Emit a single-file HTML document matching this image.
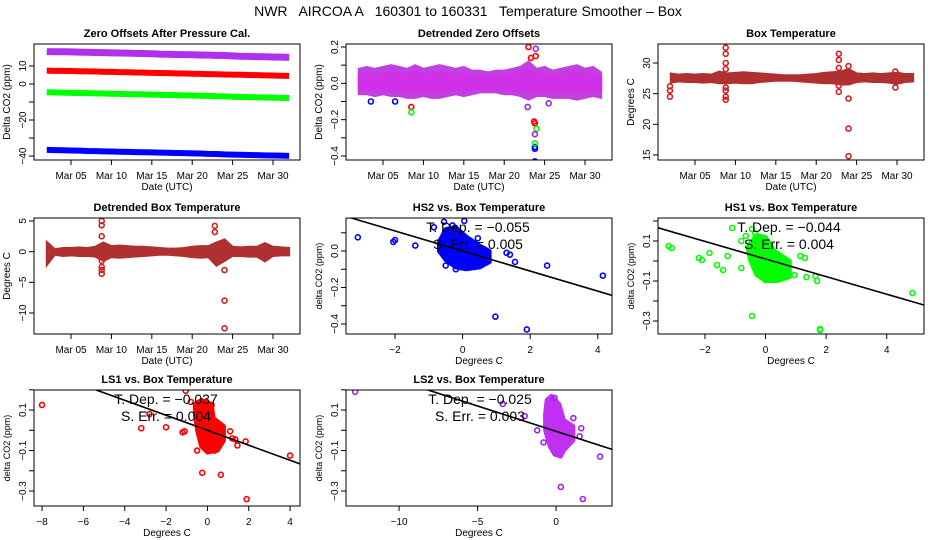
<!DOCTYPE html>
<html><head><meta charset="utf-8"><style>
html,body{margin:0;padding:0;background:#fff;}
svg{display:block;font-family:"Liberation Sans",sans-serif;}
</style></head><body>
<svg id="c" width="936" height="540" xmlns="http://www.w3.org/2000/svg">
<text x="468" y="16" text-anchor="middle" font-size="14" style="white-space:pre">NWR   AIRCOA A   160301 to 160331   Temperature Smoother – Box</text>
</svg>
<script>
// ---- data ----
const days = [2,3,4,5,6,7,8,9,10,11,12,13,14,15,16,17,18,19,20,21,22,23,24,25,26,27,28,29,30,31,32];
const zeroPurple = [18,17.9,17.9,17.8,17.7,17.6,17.5,17.4,17.3,17.2,17.1,17,16.9,16.8,16.6,16.5,16.4,16.3,16.2,16.1,16,15.9,15.8,15.6,15.4,15.3,15.2,15.1,15,14.9,14.8];
const zeroRed = [7.4,7.3,7.3,7.2,7.1,7.0,6.9,6.8,6.7,6.6,6.5,6.4,6.3,6.2,6.1,6.0,5.9,5.8,5.7,5.6,5.5,5.4,5.3,5.2,5.1,5.0,4.9,4.8,4.7,4.6,4.5];
const zeroGreen = [-4.6,-4.7,-4.8,-4.9,-5.0,-5.1,-5.2,-5.3,-5.4,-5.5,-5.6,-5.7,-5.8,-5.9,-6.0,-6.1,-6.2,-6.3,-6.4,-6.5,-6.6,-6.8,-6.9,-7.1,-7.2,-7.3,-7.4,-7.5,-7.6,-7.7,-7.8];
const zeroBlue = [-36.6,-36.7,-36.8,-36.9,-37.0,-37.2,-37.3,-37.4,-37.5,-37.6,-37.7,-37.8,-37.9,-38.0,-38.1,-38.2,-38.3,-38.4,-38.5,-38.6,-38.8,-38.9,-39.1,-39.2,-39.3,-39.4,-39.5,-39.6,-39.7,-39.8,-39.9];
const detHi = [0.08,0.09,0.08,0.09,0.1,0.09,0.08,0.1,0.08,0.09,0.1,0.09,0.08,0.09,0.07,0.07,0.06,0.07,0.07,0.08,0.09,0.12,0.08,0.09,0.07,0.08,0.09,0.1,0.08,0.09,0.06];
const detLo = [-0.06,-0.06,-0.07,-0.06,-0.07,-0.07,-0.08,-0.08,-0.07,-0.08,-0.08,-0.07,-0.06,-0.07,-0.06,-0.05,-0.05,-0.05,-0.06,-0.06,-0.07,-0.09,-0.07,-0.07,-0.08,-0.08,-0.08,-0.09,-0.08,-0.07,-0.08];
const detOutDay = [23.8,23.8,23.8,23.7,23.8,23.0,23.3,23.9,8.5,23.8,24.0,8.5,23.8,23.9,22.9,25.5,3.5,6.5];
const detOutVal = [-0.43,-0.35,-0.36,-0.21,-0.22,0.2,0.14,0.15,-0.13,-0.33,-0.25,-0.16,-0.28,0.19,-0.13,-0.11,-0.1,-0.1];
const detOutCol = ["b","b","b","r","r","r","r","r","r","g","g","g","p","p","p","p","b","b"];
const boxHi = [28.3,28.1,28.2,28.1,28.2,28.1,28.6,28.3,28.4,28.5,28.4,28.3,28.2,28.1,28.0,28.0,28.0,28.1,28.2,28.4,28.5,28.6,29.0,28.3,28.2,28.3,28.2,28.3,28.4,28.2,28.2];
const boxLo = [26.8,27.0,26.9,26.9,26.8,26.9,26.7,26.7,26.8,26.7,26.7,26.9,27.0,27.1,27.1,27.1,27.0,26.9,26.8,26.7,26.7,26.5,26.5,26.9,27.0,26.9,26.9,26.8,26.6,26.9,27.0];
const boxSpikeDay = [1.9,1.9,1.9,8.8,8.8,8.8,8.8,8.8,8.8,8.8,8.8,22.8,22.8,22.8,22.8,22.8,24.0,24.0,24.0,24.0,29.8,29.8];
const boxSpikeVal = [24.5,25.5,26.2,24,24.5,25.5,26,29,30,31.5,32.5,25.3,26.3,29.2,30.5,31.5,24.2,19.3,14.8,29.5,26,28.6];
const dtHi = [1.6,0.4,0.6,0.6,0.7,0.6,0.8,1.5,0.9,1.0,0.9,0.8,0.8,0.7,0.6,0.5,0.5,0.6,0.8,0.9,0.9,1.5,2.0,0.8,0.7,0.8,0.8,1.4,0.8,0.7,0.6];
const dtLo = [-2.2,-0.5,-0.7,-0.6,-0.7,-0.7,-0.8,-1.5,-0.9,-1.0,-0.9,-0.8,-0.7,-0.6,-0.5,-0.5,-0.6,-0.7,-0.9,-1.0,-0.9,-2.3,-1.5,-0.7,-0.7,-0.8,-0.8,-1.6,-0.7,-0.6,-0.6];
const dtSpikeDay = [8.8,8.8,8.8,8.8,8.8,8.8,8.8,22.8,22.8,24.0,24.0,24.0];
const dtSpikeVal = [5,4.3,2.5,-1.5,-2.5,-3,-3.6,4.2,3.2,-3,-8,-12.5];
const hs2HullX = [-0.7,-0.5,-0.2,0.1,0.5,0.8,0.8,0.5,0.1,-0.2,-0.5,-0.7];
const hs2HullY = [0.05,0.12,0.13,0.08,0.03,0.0,-0.06,-0.09,-0.1,-0.09,-0.05,0.0];
const hs2OutX = [-3.1,-2.05,-2,-1.4,-0.85,-0.55,0.05,1.3,1.4,1.55,2.5,4.15,0.97,1.9,-0.5,-0.2,-0.3,0.45];
const hs2OutY = [0.075,0.05,0.06,0.03,0.13,0.16,0.165,-0.01,-0.02,-0.06,-0.08,-0.135,-0.36,-0.43,-0.08,-0.1,0.14,0.07];
const hs1HullX = [-0.6,-0.3,0.0,0.3,0.8,0.8,0.4,0.0,-0.3,-0.5];
const hs1HullY = [0.07,0.13,0.12,0.05,0.0,-0.08,-0.1,-0.1,-0.07,0.0];
const hs1OutX = [-3.2,-3.1,-2.2,-2.1,-1.85,-1.6,-1.4,-1.25,-0.8,-1.1,-0.45,-0.65,-0.8,-0.35,1.15,1.3,1.35,1.65,1.7,0.95,4.85,-0.45,1.8,1.8,0.0];
const hs1OutY = [0.075,0.065,0.015,0.005,0.04,-0.02,-0.045,0.025,-0.035,0.165,0.16,0.125,0.1,0.14,0.025,0.015,-0.08,-0.075,-0.1,-0.07,-0.16,-0.275,-0.34,-0.345,-0.095];
const ls1HullX = [-0.6,-0.3,0.2,0.3,0.8,0.8,0.5,0.0,-0.3,-0.5,-0.6];
const ls1HullY = [0.13,0.15,0.13,0.06,0.02,-0.05,-0.1,-0.11,-0.08,0.0,0.08];
const ls1OutX = [-8,-2.8,-3.2,-2,-1.2,-1.1,-1.05,0.2,-0.5,-0.25,0.65,1.1,1.2,1.35,1.45,1.85,4.0,1.9,0.35,-0.8];
const ls1OutY = [0.125,0.08,0.01,0.015,-0.01,-0.005,0.195,0.125,-0.1,-0.21,-0.22,-0.005,-0.04,-0.045,-0.075,-0.055,-0.125,-0.34,-0.1,0.14];
const ls2HullX = [-0.6,-0.3,0.2,0.5,1.1,1.1,0.5,0.3,-0.1,-0.4,-0.7,-0.7];
const ls2HullY = [0.15,0.17,0.13,0.05,0.02,-0.05,-0.1,-0.13,-0.12,-0.08,0.0,0.08];
const ls2OutX = [-12.8,-3.4,2.8,0.3,1.7,-1.2,-0.8,1.5,1.6,-0.1,1.1,-2];
const ls2OutY = [0.19,0.13,-0.13,-0.28,-0.34,0.0,-0.06,-0.03,0.01,0.16,0.06,0.07];
const fitSlope = [-0.055,-0.044,-0.037,-0.025];
const fitIntercept = [0.0,0.01,0.0,-0.005];
const fitLabels = ["T. Dep. =  −0.055","T. Dep. =  −0.044","T. Dep. =  −0.037","T. Dep. =  −0.025"];
const errLabels = ["S. Err. =  0.005","S. Err. =  0.004","S. Err. =  0.004","S. Err. =  0.003"];
const dateTicks = [5,10,15,20,25,30];
const dateLabels = ["Mar 05","Mar 10","Mar 15","Mar 20","Mar 25","Mar 30"];

// ---- drawing ----
const svg = document.getElementById('c');
const NS = 'http://www.w3.org/2000/svg';
const COL = {r:'#ff0000',g:'#00ff00',b:'#0000ff',p:'#a020f0'};
const ROWTOP = [44,218,390];
function mk(tag, attrs, parent){
  const e = document.createElementNS(NS, tag);
  for (const k in attrs) e.setAttribute(k, attrs[k]);
  (parent||svg).appendChild(e);
  return e;
}
function panel(col,row,xd,yd,title,name){
  const L = 34+312*col, T = ROWTOP[row], W = 266, H = 116;
  const g = mk('g',{});
  
  
  const sx = v => L + (v-xd[0])/(xd[1]-xd[0])*W;
  const sy = v => T + (yd[1]-v)/(yd[1]-yd[0])*H;
  const t = mk('text',{x:L+W/2,y:T-7,'text-anchor':'middle','font-size':11,'font-weight':'bold'},g);
  t.textContent = title;
  
  
  const clip = mk('clipPath',{id:'cl'+name},g);
  mk('rect',{x:L,y:T,width:W,height:H},clip);
  const plot = mk('g',{'clip-path':'url(#cl'+name+')'},g);
  return {g,plot,L,T,W,H,sx,sy};
}
function box(p){
  const r = mk('rect',{x:p.L,y:p.T,width:p.W,height:p.H,fill:'none',stroke:'#000','stroke-width':1},p.g);
  
  
}
function xaxis(p,ticks,labels,title){
  const ax = mk('g',{},p.g);
  
  
  const B = p.T+p.H;
  ticks.forEach((v,i)=>{
    const x = p.sx(v);
    mk('line',{x1:x,x2:x,y1:B,y2:B+5,stroke:'#000'},ax);
    const t = mk('text',{x:x,y:B+19,'text-anchor':'middle','font-size':10},ax);
    t.textContent = labels[i];
    
    
  });
  const tt = mk('text',{x:p.L+p.W/2,y:B+30,'text-anchor':'middle','font-size':10},ax);
  tt.textContent = title;
  
  
}
function yaxis(p,ticks,labels,title,fs){
  const ax = mk('g',{},p.g);
  
  
  const X = p.L;
  ticks.forEach((v,i)=>{
    const y = p.sy(v);
    mk('line',{x1:X,x2:X-5,y1:y,y2:y,stroke:'#000'},ax);
    if (labels[i]) {
      const t = mk('text',{x:0,y:0,'text-anchor':'middle','font-size':10,transform:`translate(${p.L-8},${y}) rotate(-90)`},ax);
      t.textContent = labels[i];
      
      
    }
  });
  const tt = mk('text',{x:0,y:0,'text-anchor':'middle','font-size':fs||10,transform:`translate(${p.L-24},${p.T+p.H/2}) rotate(-90)`},ax);
  tt.textContent = title;
  
  
}
function band(p,xs,hi,lo,color,name){
  let pts = xs.map((d,i)=>p.sx(d)+','+p.sy(hi[i]));
  for (let i=xs.length-1;i>=0;i--) pts.push(p.sx(xs[i])+','+p.sy(lo[i]));
  const e = mk('polygon',{points:pts.join(' '),fill:color,stroke:color,'stroke-width':2},p.plot);
  
  
}
function thick(p,xs,ys,color,w,name){
  const e = mk('polyline',{points:xs.map((d,i)=>p.sx(d)+','+p.sy(ys[i])).join(' '),fill:'none',stroke:color,'stroke-width':w},p.plot);
  
  
}
function pts(p,xs,ys,color,name){
  xs.forEach((x,i)=>{
    const c = mk('circle',{cx:p.sx(x),cy:p.sy(ys[i]),r:2.5,fill:'none',stroke:Array.isArray(color)?color[i]:color,'stroke-width':1.6},p.plot);
    
    
  });
}
function hull(p,xs,ys,color,name){
  const e = mk('polygon',{points:xs.map((x,i)=>p.sx(x)+','+p.sy(ys[i])).join(' '),fill:color,stroke:color,'stroke-width':4,'stroke-linejoin':'round'},p.plot);
  
  
}
function fit(p,xd,k,cx){
  const f = x => fitIntercept[k] + fitSlope[k]*x;
  const e = mk('line',{x1:p.sx(xd[0]),y1:p.sy(f(xd[0])),x2:p.sx(xd[1]),y2:p.sy(f(xd[1])),stroke:'#000','stroke-width':1.6},p.plot);
  
  
  const a = mk('text',{x:cx,y:p.T+14,'text-anchor':'middle','font-size':14},p.g);
  a.textContent = fitLabels[k];
  
  
  const b = mk('text',{x:cx,y:p.T+31,'text-anchor':'middle','font-size':14},p.g);
  b.textContent = errLabels[k];
  
  
}
const TX = [0.42,33.34];

// Panel 1
let p = panel(0,0,TX,[-42.2,22.2],'Zero Offsets After Pressure Cal.','zero-offsets-panel');
thick(p,days,zeroPurple,'#b030f0',7,'purple-series');
thick(p,days,zeroRed,COL.r,6,'red-series');
thick(p,days,zeroGreen,COL.g,6,'green-series');
thick(p,days,zeroBlue,COL.b,6,'blue-series');
box(p); xaxis(p,dateTicks,dateLabels,'Date (UTC)');
yaxis(p,[-40,-30,-20,-10,0,10],['−40','','−20','','0','10'],'Delta CO2 (ppm)');

// Panel 2
p = panel(1,0,TX,[-0.422,0.2165],'Detrended Zero Offsets','detrended-offsets-panel');
band(p,days,detHi,detLo,'#c040e0','detrended-band');
band(p,days,detHi.map(v=>v*0.6),detLo.map(v=>v*0.6),'#d030e8','detrended-core');
pts(p,detOutDay,detOutVal,detOutCol.map(c=>COL[c]),'detrended-outlier');
box(p); xaxis(p,dateTicks,dateLabels,'Date (UTC)');
yaxis(p,[-0.4,-0.3,-0.2,-0.1,0,0.1,0.2],['−0.4','','−0.2','','0.0','','0.2'],'Delta CO2 (ppm)');

// Panel 3
p = panel(2,0,TX,[14.18,33.1],'Box Temperature','box-temperature-panel');
band(p,days,boxHi,boxLo,'#b03030','box-temp-band');
pts(p,boxSpikeDay,boxSpikeVal,'#d02020','box-temp-point');
box(p); xaxis(p,dateTicks,dateLabels,'Date (UTC)');
yaxis(p,[15,20,25,30],['15','20','25','30'],'Degrees C');

// Panel 4
p = panel(0,1,TX,[-13.43,5.49],'Detrended Box Temperature','detrended-box-temp-panel');
band(p,days,dtHi,dtLo,'#b03030','detrended-temp-band');
pts(p,dtSpikeDay,dtSpikeVal,'#d02020','detrended-temp-point');
box(p); xaxis(p,dateTicks,dateLabels,'Date (UTC)');
yaxis(p,[-10,-5,0,5],['−10','−5','0','5'],'Degrees C');

// Panel 5 HS2
let xd = [-3.45,4.42];
p = panel(1,1,xd,[-0.455,0.181],'HS2 vs. Box Temperature','hs2-scatter-panel');
hull(p,hs2HullX,hs2HullY,COL.b,'hs2-cluster');
pts(p,hs2OutX,hs2OutY,COL.b,'hs2-point');
fit(p,xd,0,478);
box(p); xaxis(p,[-2,0,2,4],['−2','0','2','4'],'Degrees C');
yaxis(p,[-0.4,-0.3,-0.2,-0.1,0,0.1],['−0.4','','−0.2','','0.0',''],'delta CO2 (ppm)',9);

// Panel 6 HS1
xd = [-3.55,5.23];
p = panel(2,1,xd,[-0.365,0.215],'HS1 vs. Box Temperature','hs1-scatter-panel');
hull(p,hs1HullX,hs1HullY,COL.g,'hs1-cluster');
pts(p,hs1OutX,hs1OutY,COL.g,'hs1-point');
fit(p,xd,1,789);
box(p); xaxis(p,[-2,0,2,4],['−2','0','2','4'],'Degrees C');
yaxis(p,[-0.3,-0.2,-0.1,0,0.1,0.2],['−0.3','','−0.1','','0.1',''],'delta CO2 (ppm)',9);

// Panel 7 LS1
xd = [-8.39,4.48];
p = panel(0,2,xd,[-0.374,0.199],'LS1 vs. Box Temperature','ls1-scatter-panel');
hull(p,ls1HullX,ls1HullY,COL.r,'ls1-cluster');
pts(p,ls1OutX,ls1OutY,COL.r,'ls1-point');
fit(p,xd,2,166);
box(p); xaxis(p,[-8,-6,-4,-2,0,2,4],['−8','−6','−4','−2','0','2','4'],'Degrees C');
yaxis(p,[-0.3,-0.2,-0.1,0,0.1,0.2],['−0.3','','−0.1','','0.1',''],'delta CO2 (ppm)',9);

// Panel 8 LS2
xd = [-13.38,3.56];
p = panel(1,2,xd,[-0.374,0.199],'LS2 vs. Box Temperature','ls2-scatter-panel');
hull(p,ls2HullX,ls2HullY,'#c030f0','ls2-cluster');
pts(p,ls2OutX,ls2OutY,'#a020f0','ls2-point');
fit(p,xd,3,480);
box(p); xaxis(p,[-10,-5,0],['−10','−5','0'],'Degrees C');
yaxis(p,[-0.3,-0.2,-0.1,0,0.1,0.2],['−0.3','','−0.1','','0.1',''],'delta CO2 (ppm)',9);
</script>
</body></html>
